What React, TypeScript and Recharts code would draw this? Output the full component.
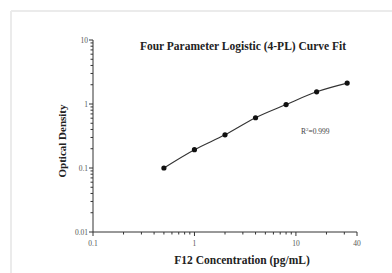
import React from 'react';
import { LineChart, Line, XAxis, YAxis } from 'recharts';

const concentration = [0.5, 1, 2, 4, 8, 16, 32];
const opticalDensity = [0.1, 0.193, 0.33, 0.61, 0.98, 1.55, 2.12];

const xMajorTicks = [0.1, 1, 10, 40];
const xMinorTicks = [0.2, 0.3, 0.4, 0.5, 0.6, 0.7, 0.8, 0.9, 2, 3, 4, 5, 6, 7, 8, 9, 20, 30];
const xTickLabels = ['0.1', '1', '10', '40'];

const yMajorTicks = [0.01, 0.1, 1, 10];
const yMinorTicks = [0.02, 0.03, 0.04, 0.05, 0.06, 0.07, 0.08, 0.09, 0.2, 0.3, 0.4, 0.5, 0.6, 0.7, 0.8, 0.9, 2, 3, 4, 5, 6, 7, 8, 9];
const yTickLabels = ['0.01', '0.1', '1', '10'];

const titleText = 'Four Parameter Logistic (4-PL) Curve Fit';
const xLabel = 'F12 Concentration (pg/mL)';
const yLabel = 'Optical Density';
const rSquared = '=0.999';

const data = concentration.map((x, i) => ({ x, y: opticalDensity[i] }));

const FONT = '"Liberation Serif", "Times New Roman", serif';
const AXIS = '#333';
const TICKTXT = '#555';

const XTick = (props: any) => {
  const { x, y, payload } = props;
  const v = payload.value;
  const idx = xMajorTicks.findIndex((t) => Math.abs(t - v) < 1e-9);
  const major = idx >= 0;
  return (
    <g>
      <line x1={x} x2={x} y1={y} y2={y + (major ? 4 : 2.5)} stroke={AXIS} strokeWidth={1} />
      {major && (
        <text x={x} y={y + 14} textAnchor="middle" fontSize={7.5} fill={TICKTXT} fontFamily={FONT}>
          {xTickLabels[idx]}
        </text>
      )}
    </g>
  );
};

const YTick = (props: any) => {
  const { x, y, payload } = props;
  const v = payload.value;
  const idx = yMajorTicks.findIndex((t) => Math.abs(t - v) < 1e-12);
  const major = idx >= 0;
  return (
    <g>
      <line x1={x} x2={x - (major ? 4 : 2.5)} y1={y} y2={y} stroke={AXIS} strokeWidth={1} />
      {major && (
        <text x={x - 5} y={y + 2.5} textAnchor="end" fontSize={7.5} fill={TICKTXT} fontFamily={FONT}>
          {yTickLabels[idx]}
        </text>
      )}
    </g>
  );
};

export default function App() {
  const W = 392;
  const H = 273;
  return (
    <div style={{ position: 'absolute', left: 0, top: 0, width: W, height: H, background: '#fff' }}>
      <LineChart width={W} height={H} data={data} margin={{ top: 40, right: 35, bottom: 0, left: 0 }}>
        <XAxis
          dataKey="x"
          type="number"
          scale="log"
          domain={[0.1, 40]}
          allowDataOverflow
          ticks={[...xMajorTicks, ...xMinorTicks].sort((a, b) => a - b)}
          interval={0}
          tick={<XTick />}
          tickLine={false}
          tickSize={0}
          tickMargin={0}
          height={41}
          axisLine={{ stroke: AXIS, strokeWidth: 1 }}
        />
        <YAxis
          dataKey="y"
          type="number"
          scale="log"
          domain={[0.01, 10]}
          allowDataOverflow
          ticks={[...yMajorTicks, ...yMinorTicks].sort((a, b) => a - b)}
          interval={0}
          tick={<YTick />}
          tickLine={false}
          tickSize={0}
          tickMargin={0}
          width={93}
          axisLine={{ stroke: AXIS, strokeWidth: 1 }}
        />
        <Line
          dataKey="y"
          type="monotone"
          stroke="#333"
          strokeWidth={1.1}
          dot={{ r: 2.6, fill: '#111', stroke: '#111', strokeWidth: 0 }}
          activeDot={false}
          isAnimationActive={false}
        />
      </LineChart>
      <svg
        width={W}
        height={H}
        style={{ position: 'absolute', left: 0, top: 0, pointerEvents: 'none' }}
      >
        <line x1={11} y1={11} x2={W} y2={11} stroke="#ebebeb" strokeWidth={2} />
        <line x1={11} y1={11} x2={11} y2={H} stroke="#ebebeb" strokeWidth={2} />
        <text x={243} y={50} textAnchor="middle" fontSize={11.5} fontWeight="bold" fontFamily={FONT} fill="#222">
          {titleText}
        </text>
        <text x={301} y={134} fontSize={7.5} fontFamily={FONT} fill="#444">
          R<tspan dy={-3} fontSize={5}>2</tspan>
          <tspan dy={3}>{rSquared}</tspan>
        </text>
        <text x={242} y={264} textAnchor="middle" fontSize={11.5} fontWeight="bold" fontFamily={FONT} fill="#222">
          {xLabel}
        </text>
        <text
          x={0}
          y={0}
          transform="translate(66,141) rotate(-90)"
          textAnchor="middle"
          fontSize={11}
          fontWeight="bold"
          fontFamily={FONT}
          fill="#222"
        >
          {yLabel}
        </text>
      </svg>
    </div>
  );
}
